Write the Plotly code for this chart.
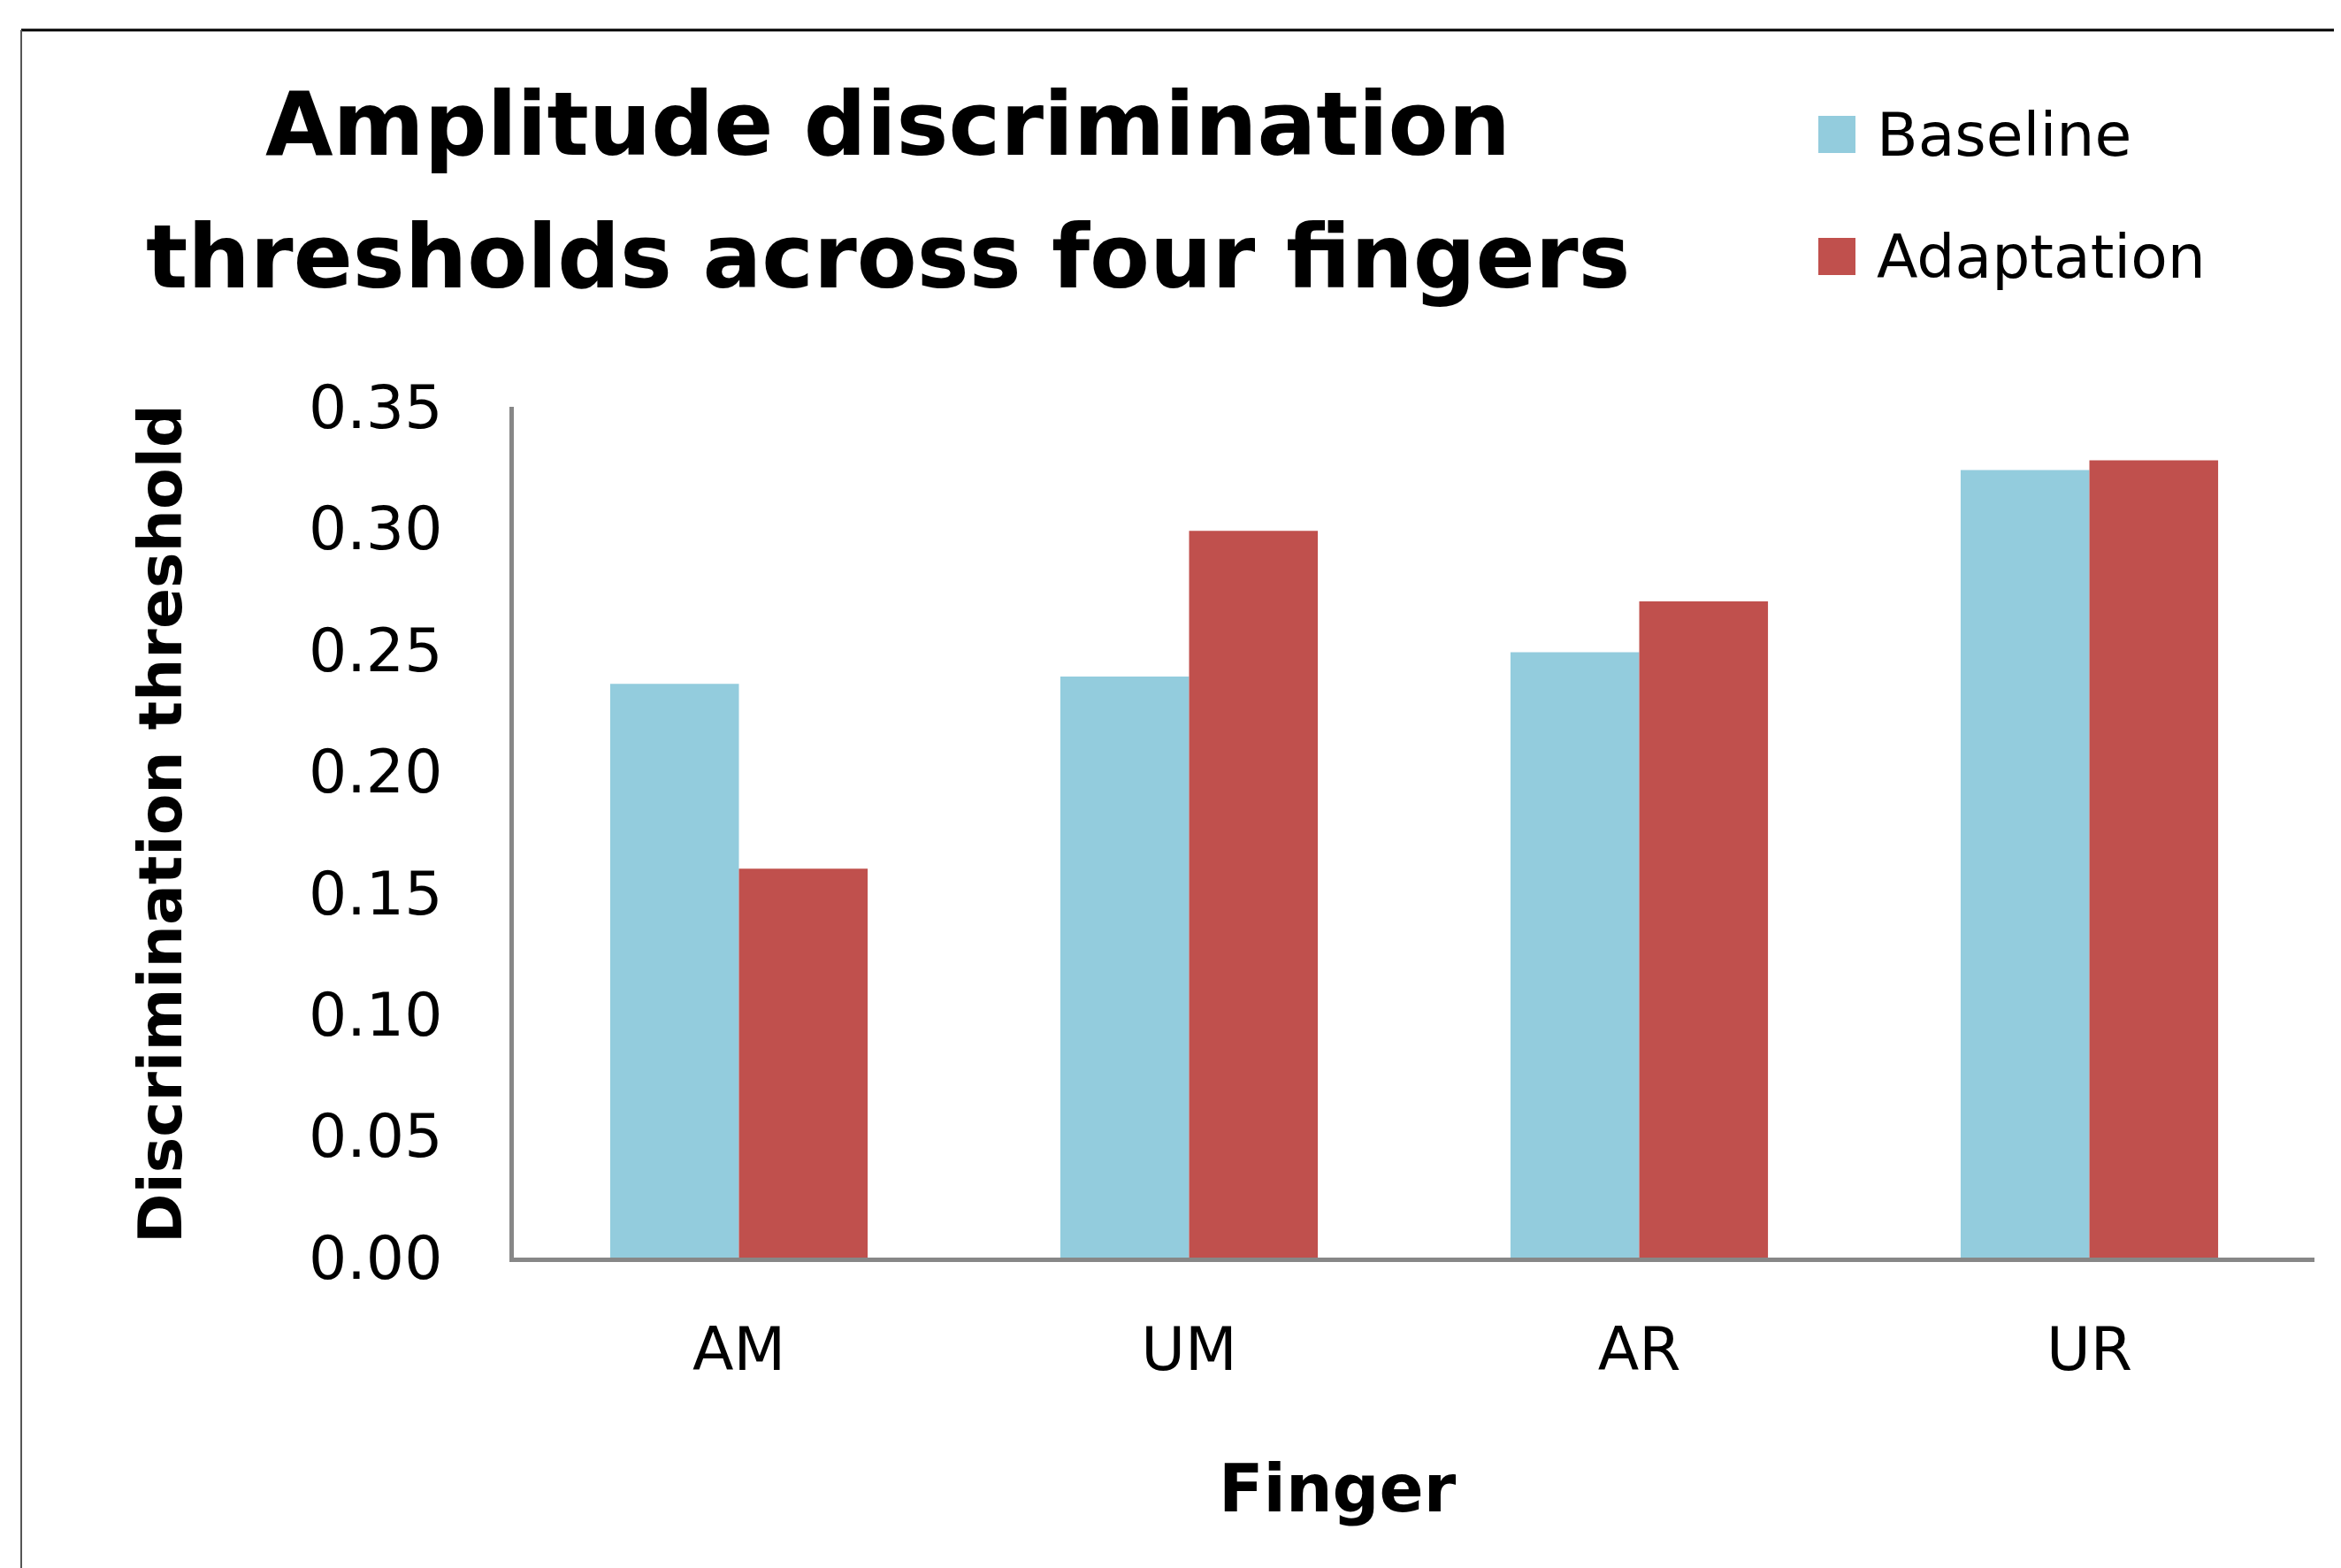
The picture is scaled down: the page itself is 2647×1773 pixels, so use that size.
import plotly.graph_objects as go

fingers = ["AM", "UM", "AR", "UR"]
baseline = [0.236, 0.239, 0.249, 0.324]
adaptation = [0.160, 0.299, 0.270, 0.328]
series_names = ["Baseline", "Adaptation"]
series_colors = ["#93CCDD", "#C0504D"]
y_ticks = [0.00, 0.05, 0.10, 0.15, 0.20, 0.25, 0.30, 0.35]

W, H = 2647, 1773
OFF = 8  # browser body margin
L, T = 581 - OFF, 460 - OFF
PW, PH = 2036, 962
R = W - L - PW
B = H - T - PH

def px_x(px):
    return (px - OFF - L) / PW

def px_y(py):
    return (T + PH - (py - OFF)) / PH

FONT = "DejaVu Sans"

fig = go.Figure()
for name, vals, col in zip(series_names, [baseline, adaptation], series_colors):
    fig.add_trace(go.Bar(x=fingers, y=vals, name=name, marker=dict(color=col, line=dict(width=0)),
                         showlegend=False))

fig.update_layout(
    width=W, height=H,
    margin=dict(l=L, r=R, t=T, b=B, autoexpand=False),
    paper_bgcolor="white", plot_bgcolor="white",
    barmode="group", bargap=0.428, bargroupgap=0,
    font=dict(family=FONT, color="black"),
)
fig.update_xaxes(showline=True, linecolor="#878787", linewidth=5, showgrid=False, ticks="",
                 tickfont=dict(size=68, family=FONT, color="black"), ticklabelstandoff=40)
fig.update_yaxes(range=[0, 0.35], tickvals=y_ticks, ticktext=[f"{v:.2f}" for v in y_ticks],
                 showline=True, linecolor="#878787", linewidth=5, showgrid=False, zeroline=False,
                 ticks="", tickfont=dict(size=68, family=FONT, color="black"), ticklabelstandoff=62)

# Title (two lines)
fig.add_annotation(text="<b>Amplitude discrimination</b>", xref="paper", yref="paper",
                   x=px_x(1004), y=px_y(140), xanchor="center", yanchor="middle", showarrow=False,
                   font=dict(size=99, family=FONT, color="black"))
fig.add_annotation(text="<b>thresholds across four fingers</b>", xref="paper", yref="paper",
                   x=px_x(1004), y=px_y(290), xanchor="center", yanchor="middle", showarrow=False,
                   font=dict(size=99, family=FONT, color="black"))

# Axis titles
fig.add_annotation(text="<b>Finger</b>", xref="paper", yref="paper",
                   x=px_x(1512), y=px_y(1683), xanchor="center", yanchor="middle", showarrow=False,
                   font=dict(size=74, family=FONT, color="black"))
fig.add_annotation(text="<b>Discrimination threshold</b>", xref="paper", yref="paper",
                   x=px_x(181), y=px_y(932), xanchor="center", yanchor="middle", showarrow=False,
                   textangle=-90, font=dict(size=68, family=FONT, color="black"))

# Legend (manual)
leg_y = [152, 290]
for name, col, yy in zip(series_names, series_colors, leg_y):
    fig.add_shape(type="rect", xref="paper", yref="paper",
                  x0=px_x(2056), x1=px_x(2098), y0=px_y(yy - 21), y1=px_y(yy + 21),
                  fillcolor=col, line=dict(width=0))
    fig.add_annotation(text=name, xref="paper", yref="paper", x=px_x(2120), y=px_y(yy),
                       xanchor="left", yanchor="middle", showarrow=False,
                       font=dict(size=68, family=FONT, color="black"))

# Outer frame lines
fig.add_shape(type="line", xref="paper", yref="paper", x0=px_x(24), x1=px_x(2680),
              y0=px_y(34), y1=px_y(34), line=dict(color="black", width=3))
fig.add_shape(type="line", xref="paper", yref="paper", x0=px_x(24), x1=px_x(24),
              y0=px_y(34), y1=px_y(1800), line=dict(color="#555555", width=2))

fig.write_html("out.html")
